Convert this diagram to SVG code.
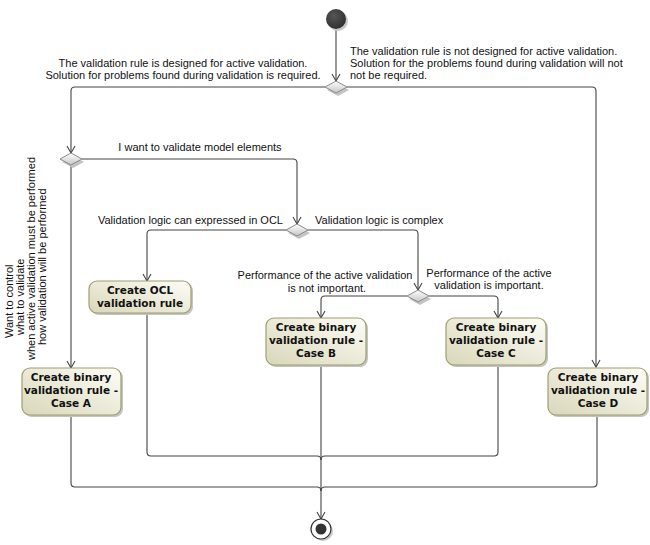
<svg xmlns="http://www.w3.org/2000/svg" width="650" height="545" viewBox="0 0 650 545">
<style>
.bg{fill:#ffffff}
.lbl{font-family:"Liberation Sans",Arial,sans-serif;font-size:11px;fill:#111}
.nt{font-family:"DejaVu Sans",Verdana,sans-serif;font-size:10.5px;font-weight:bold;fill:#111;text-anchor:middle}
.node{fill:url(#ng);stroke:#9e9e6e;stroke-width:1.2}
.shadow{fill:#c4c4c4}
.dia{fill:url(#dg);stroke:#8a8a8a;stroke-width:1}
.conn{fill:none;stroke:#444;stroke-width:1.1}
</style>
<defs>
<linearGradient id="ng" x1="1" y1="0" x2="0" y2="1">
<stop offset="0" stop-color="#fdfdf7"/>
<stop offset="1" stop-color="#d9d7b9"/>
</linearGradient>
<linearGradient id="dg" x1="0" y1="0" x2="0" y2="1">
<stop offset="0" stop-color="#ffffff"/>
<stop offset="1" stop-color="#c6c6c6"/>
</linearGradient>
<radialGradient id="ig" cx="0.4" cy="0.35" r="0.7">
<stop offset="0" stop-color="#555"/>
<stop offset="1" stop-color="#2e2e2e"/>
</radialGradient>
<marker id="arr" viewBox="-8 -5 9 10" markerWidth="9" markerHeight="10" refX="0" refY="0" orient="auto" markerUnits="userSpaceOnUse">
<path d="M-7,-4 L0,0 L-7,4" fill="none" stroke="#444" stroke-width="1.1"/>
</marker>
</defs>
<rect class="bg" x="0" y="0" width="650" height="545"/>

<g id="connectors">
<path class="conn" d="M336,29 V81" marker-end="url(#arr)"/>
<path class="conn" d="M325,87 H75 Q71,87 71,91 V153" marker-end="url(#arr)"/>
<path class="conn" d="M347,87 H592 Q596,87 596,91 V367" marker-end="url(#arr)"/>
<path class="conn" d="M82,159 H293 Q297,159 297,163 V224" marker-end="url(#arr)"/>
<path class="conn" d="M71,165 V368" marker-end="url(#arr)"/>
<path class="conn" d="M286,230 H151 Q147,230 147,234 V281" marker-end="url(#arr)"/>
<path class="conn" d="M308,230 H414 Q418,230 418,234 V290" marker-end="url(#arr)"/>
<path class="conn" d="M407,296 H325 Q321,296 321,300 V318" marker-end="url(#arr)"/>
<path class="conn" d="M429,296 H494 Q498,296 498,300 V318" marker-end="url(#arr)"/>
<path class="conn" d="M147,313 V452 Q147,456 151,456 H317 Q321,456 321,460"/>
<path class="conn" d="M498,365 V452 Q498,456 494,456 H325 Q321,456 321,460"/>
<path class="conn" d="M71,415 V483 Q71,487 75,487 H317 Q321,487 321,491"/>
<path class="conn" d="M597,415 V483 Q597,487 593,487 H325 Q321,487 321,491"/>
<path class="conn" d="M321,365 V519" marker-end="url(#arr)"/>
</g>

<g id="initial">
<circle cx="338" cy="21" r="10" fill="#c8c8c8"/>
<circle cx="336" cy="19" r="10" fill="url(#ig)"/>
</g>

<g id="decision1">
<polygon points="327,90 338,84 349,90 338,96" class="shadow"/>
<polygon points="325,87 336,81 347,87 336,93" class="dia"/>
</g>
<g id="decision2">
<polygon points="62,162 73,156 84,162 73,168" class="shadow"/>
<polygon points="60,159 71,153 82,159 71,165" class="dia"/>
</g>
<g id="decision3">
<polygon points="288,233 299,227 310,233 299,239" class="shadow"/>
<polygon points="286,230 297,224 308,230 297,236" class="dia"/>
</g>
<g id="decision4">
<polygon points="409,299 420,293 431,299 420,305" class="shadow"/>
<polygon points="407,296 418,290 429,296 418,302" class="dia"/>
</g>

<g id="ocl">
<rect x="91" y="283" width="102" height="32" rx="8" class="shadow"/>
<rect x="89" y="281" width="102" height="32" rx="8" class="node"/>
<text class="nt" x="140" y="294">Create OCL</text>
<text class="nt" x="140" y="307">validation rule</text>
</g>

<g id="caseA">
<rect x="24" y="370" width="99" height="47" rx="8" class="shadow"/>
<rect x="22" y="368" width="99" height="47" rx="8" class="node"/>
<text class="nt" x="71" y="381">Create binary</text>
<text class="nt" x="71" y="394">validation rule -</text>
<text class="nt" x="71" y="407">Case A</text>
</g>

<g id="caseB">
<rect x="268" y="320" width="100" height="47" rx="8" class="shadow"/>
<rect x="266" y="318" width="100" height="47" rx="8" class="node"/>
<text class="nt" x="316" y="331">Create binary</text>
<text class="nt" x="316" y="344">validation rule -</text>
<text class="nt" x="316" y="357">Case B</text>
</g>

<g id="caseC">
<rect x="448" y="320" width="100" height="47" rx="8" class="shadow"/>
<rect x="446" y="318" width="100" height="47" rx="8" class="node"/>
<text class="nt" x="496" y="331">Create binary</text>
<text class="nt" x="496" y="344">validation rule -</text>
<text class="nt" x="496" y="357">Case C</text>
</g>

<g id="caseD">
<rect x="550" y="370" width="99" height="47" rx="8" class="shadow"/>
<rect x="548" y="368" width="99" height="47" rx="8" class="node"/>
<text class="nt" x="598" y="381">Create binary</text>
<text class="nt" x="598" y="394">validation rule -</text>
<text class="nt" x="598" y="407">Case D</text>
</g>

<g id="final">
<circle cx="323" cy="531" r="10" fill="#c8c8c8"/>
<circle cx="321" cy="529" r="10" fill="#fff" stroke="#333" stroke-width="1.2"/>
<circle cx="321" cy="529" r="5.5" fill="#333"/>
</g>

<g id="labels">
<text class="lbl" x="183" y="67" text-anchor="middle">The validation rule is designed for active validation.</text>
<text class="lbl" x="183" y="79" text-anchor="middle">Solution for problems found during validation is required.</text>
<text class="lbl" x="350" y="55">The validation rule is not designed for active validation.</text>
<text class="lbl" x="350" y="67">Solution for the problems found during validation will not</text>
<text class="lbl" x="350" y="79">not be required.</text>
<text class="lbl" x="200" y="151" text-anchor="middle">I want to validate model elements</text>
<text class="lbl" x="283" y="224" text-anchor="end">Validation logic can expressed in OCL</text>
<text class="lbl" x="315" y="224">Validation logic is complex</text>
<text class="lbl" x="325" y="279" text-anchor="middle">Performance of the active validation</text>
<text class="lbl" x="327" y="292" text-anchor="middle">is not important.</text>
<text class="lbl" x="489" y="277" text-anchor="middle">Performance of the active</text>
<text class="lbl" x="489" y="289" text-anchor="middle">validation  is important.</text>
<g transform="rotate(-90)">
<text class="lbl" x="-338" y="13">Want to control</text>
<text class="lbl" x="-335" y="24">what to validate</text>
<text class="lbl" x="-360" y="35">when active validation must be performed</text>
<text class="lbl" x="-345" y="46">how validation will be performed</text>
</g>
</g>
</svg>
